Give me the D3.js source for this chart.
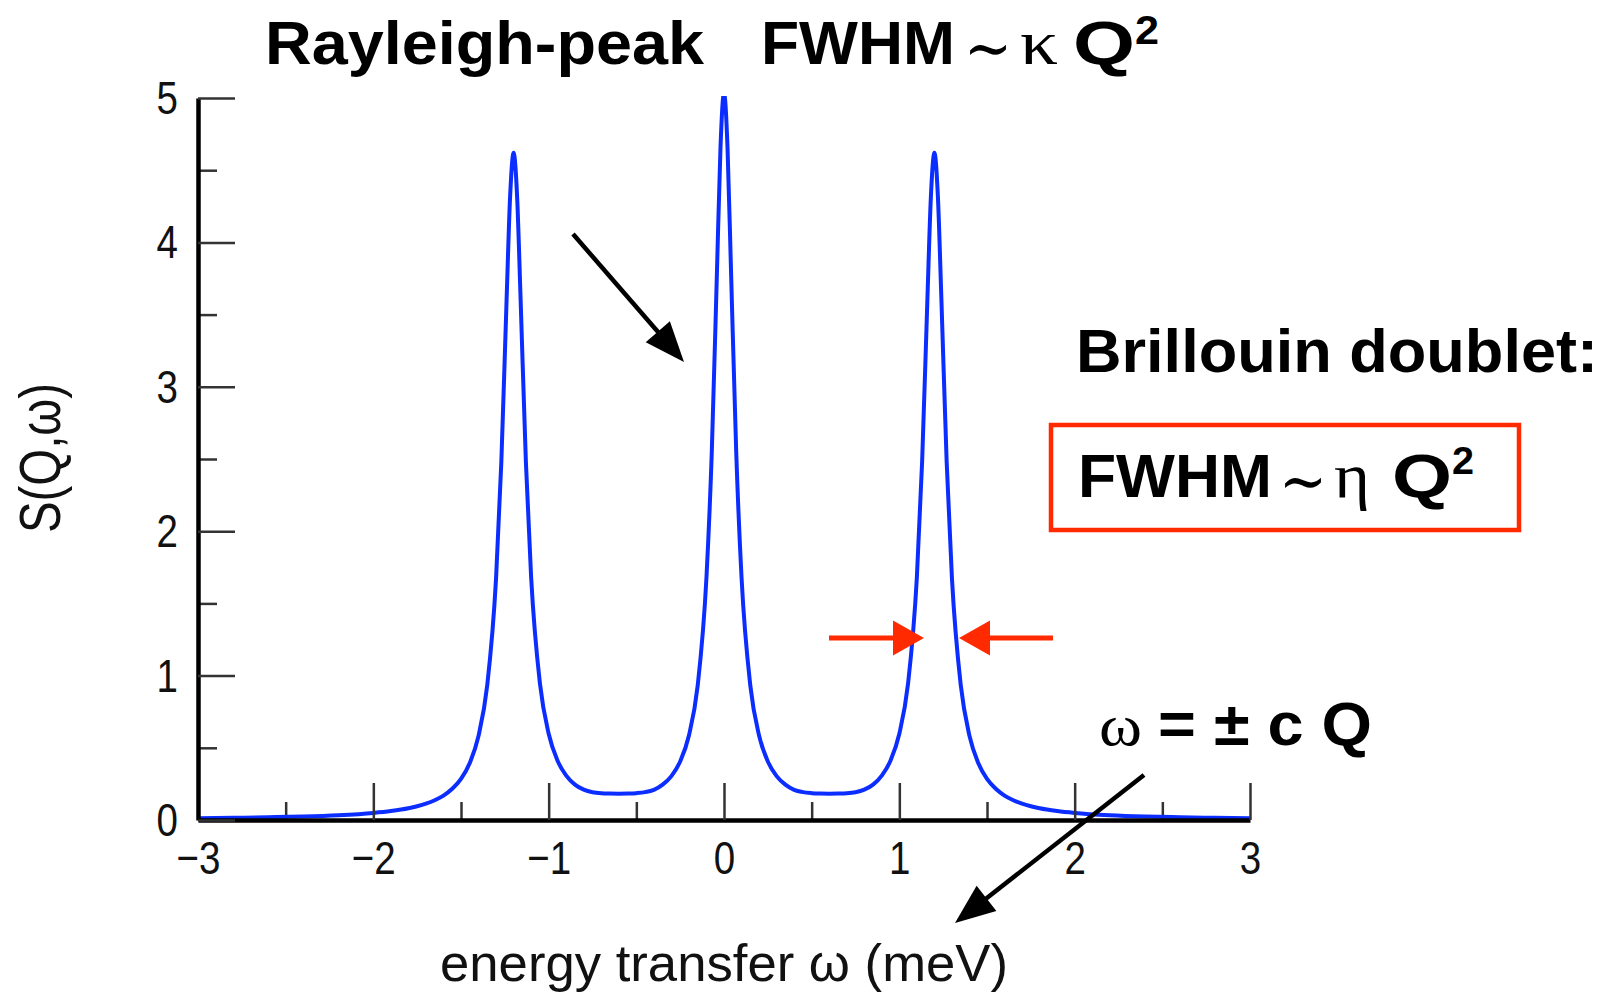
<!DOCTYPE html>
<meta charset="utf-8">
<title>S(Q,w)</title>
<style>
body { margin: 0; background: #fff; }
svg { display: block; }
.tick line { stroke: #333; stroke-width: 2.5px; }
.tick text { font-family: "Liberation Sans", Arial, sans-serif; font-size: 47px; fill: #111; }
.domain { stroke: #000; stroke-width: 4.5px; }
</style>
<body>
<script src="https://cdn.jsdelivr.net/npm/d3@7"></script>
<script>

// energy transfer (meV) and S(Q,w)
var omega = [-3, -2.8, -2.6, -2.4, -2.2, -2, -1.9, -1.8, -1.75, -1.7,
  -1.65, -1.6, -1.55, -1.5, -1.45, -1.4, -1.35, -1.3, -1.27, -1.24,
  -1.22, -1.2, -1.18, -1.16, -1.13, -1.1, -1.05, -1, -0.95, -0.9,
  -0.85, -0.8, -0.75, -0.7, -0.65, -0.6, -0.55, -0.5, -0.45, -0.4,
  -0.35, -0.3, -0.25, -0.2, -0.15, -0.1, -0.07, -0.04, -0.02, 0,
  0.02, 0.04, 0.07, 0.1, 0.15, 0.2, 0.25, 0.3, 0.35, 0.4,
  0.45, 0.5, 0.55, 0.6, 0.65, 0.7, 0.75, 0.8, 0.85, 0.9,
  0.95, 1, 1.05, 1.1, 1.13, 1.16, 1.18, 1.2, 1.22, 1.24,
  1.27, 1.3, 1.35, 1.4, 1.45, 1.5, 1.55, 1.6, 1.65, 1.7,
  1.75, 1.8, 1.9, 2, 2.2, 2.4, 2.6, 2.8, 3];
var sqw = [0.012, 0.015, 0.019, 0.024, 0.033, 0.049, 0.062, 0.081, 0.095, 0.113,
  0.137, 0.169, 0.216, 0.285, 0.395, 0.583, 0.937, 1.675, 2.478, 3.602,
  4.315, 4.621, 4.317, 3.604, 2.482, 1.681, 0.947, 0.597, 0.412, 0.307,
  0.245, 0.210, 0.192, 0.185, 0.183, 0.182, 0.183, 0.186, 0.193, 0.209,
  0.245, 0.304, 0.405, 0.585, 0.932, 1.681, 2.536, 3.805, 4.658, 5.036,
  4.658, 3.805, 2.536, 1.681, 0.932, 0.585, 0.405, 0.304, 0.245, 0.209,
  0.193, 0.186, 0.183, 0.182, 0.183, 0.185, 0.192, 0.210, 0.245, 0.307,
  0.412, 0.597, 0.947, 1.681, 2.482, 3.604, 4.317, 4.621, 4.315, 3.602,
  2.478, 1.675, 0.937, 0.583, 0.395, 0.285, 0.216, 0.169, 0.137, 0.113,
  0.095, 0.081, 0.062, 0.049, 0.033, 0.024, 0.019, 0.015, 0.012];

var xTicks = [-3, -2, -1, 0, 1, 2, 3];
var xMinor = [-2.5, -1.5, -0.5, 0.5, 1.5, 2.5];
var yTicks = [0, 1, 2, 3, 4, 5];
var yMinor = [0.5, 1.5, 2.5, 3.5, 4.5];

var width = 1613,
    height = 992,
    squeeze = 0.82,
    red = "#ff2a00";

var x = d3.scaleLinear().domain([-3, 3]).range([198, 1250]);
var y = d3.scaleLinear().domain([0, 5]).range([820, 98]);

var svg = d3.select("body").append("svg")
    .attr("width", width)
    .attr("height", height);

svg.append("defs").append("clipPath")
    .attr("id", "plot")
  .append("rect")
    .attr("x", x(-3)).attr("y", y(5) - 2)
    .attr("width", x(3) - x(-3)).attr("height", y(0) - y(5) + 12);

// minor ticks
svg.append("g")
    .attr("transform", "translate(0," + y(0) + ")")
    .call(d3.axisBottom(x).tickValues(xMinor).tickSize(-18).tickFormat(""))
    .call(function(g) { g.select(".domain").remove(); });

svg.append("g")
    .attr("transform", "translate(" + x(-3) + ",0)")
    .call(d3.axisLeft(y).tickValues(yMinor).tickSize(-19).tickFormat(""))
    .call(function(g) { g.select(".domain").remove(); });

// the curve
var line = d3.line()
    .x(function(d, i) { return x(omega[i]); })
    .y(function(d) { return y(d); })
    .curve(d3.curveMonotoneX);

svg.append("path")
    .datum(sqw)
    .attr("clip-path", "url(#plot)")
    .attr("fill", "none")
    .attr("stroke", "#0b2dff")
    .attr("stroke-width", 4)
    .attr("stroke-linejoin", "round")
    .attr("d", line);

// major ticks and labels
var xAxis = svg.append("g")
    .attr("transform", "translate(0," + y(0) + ")")
    .call(d3.axisBottom(x).tickValues(xTicks).tickSize(-37).tickSizeOuter(0).tickFormat(d3.format("d")));
xAxis.selectAll("text")
    .attr("y", 54)
    .attr("dy", 0)
    .attr("transform", "scale(" + squeeze + ",1)");

var yAxis = svg.append("g")
    .attr("transform", "translate(" + x(-3) + ",0)")
    .call(d3.axisLeft(y).tickValues(yTicks).tickSize(-37).tickSizeOuter(0).tickFormat(d3.format("d")));
yAxis.selectAll("text")
    .attr("x", -20 / squeeze)
    .attr("dy", "0.33em")
    .attr("transform", "scale(" + squeeze + ",1)");

// axis titles
svg.append("text")
    .attr("transform", "translate(60,458) rotate(-90)")
    .attr("text-anchor", "middle")
    .attr("textLength", 150)
    .attr("lengthAdjust", "spacingAndGlyphs")
    .style("font-family", "Liberation Sans, Arial, sans-serif")
    .style("font-size", "58px")
    .style("fill", "#111")
    .text("S(Q,ω)");

svg.append("text")
    .attr("x", 440).attr("y", 981)
    .attr("textLength", 568)
    .attr("lengthAdjust", "spacingAndGlyphs")
    .style("font-family", "Liberation Sans, Arial, sans-serif")
    .style("font-size", "52px")
    .style("fill", "#111")
    .text("energy transfer ω (meV)");

// annotation text pieces: [text, x, length, baseline, size, family, weight]
var sans = "Liberation Sans, Arial, sans-serif",
    serif = "Liberation Serif, DejaVu Serif, serif";
var notes = [
  ["Rayleigh-peak", 265, 439, 64, 62, sans, "bold"],
  ["FWHM", 761, 194, 64, 62, sans, "bold"],
  ["\u223C", 964, 48, 70, 64, serif, "normal"],
  ["κ", 1020, 38, 64, 64, serif, "normal"],
  ["Q", 1073, 62, 64, 62, sans, "bold"],
  ["2", 1135, 24, 44, 40, sans, "bold"],
  ["Brillouin doublet:", 1076, 522, 372, 62, sans, "bold"],
  ["FWHM", 1078, 194, 497, 62, sans, "bold"],
  ["\u223C", 1279, 48, 503, 64, serif, "normal"],
  ["η", 1334, 36, 497, 64, serif, "normal"],
  ["Q", 1392, 60, 497, 62, sans, "bold"],
  ["2", 1452, 22, 474, 38, sans, "bold"],
  ["ω", 1099, 43, 745, 60, serif, "normal"],
  ["= ± c Q", 1158, 214, 745, 62, sans, "bold"]
];

svg.selectAll(".note")
    .data(notes)
  .enter().append("text")
    .attr("class", "note")
    .attr("x", function(d) { return d[1]; })
    .attr("y", function(d) { return d[3]; })
    .attr("textLength", function(d) { return d[2]; })
    .attr("lengthAdjust", "spacingAndGlyphs")
    .style("font-size", function(d) { return d[4] + "px"; })
    .style("font-family", function(d) { return d[5]; })
    .style("font-weight", function(d) { return d[6]; })
    .style("fill", "#000")
    .text(function(d) { return d[0]; });

// red box
svg.append("rect")
    .attr("x", 1051).attr("y", 425)
    .attr("width", 468).attr("height", 105)
    .attr("fill", "none")
    .attr("stroke", red)
    .attr("stroke-width", 4.5);

// arrows
function arrow(x1, y1, x2, y2, color, w, hl, hw) {
  var a = Math.atan2(y2 - y1, x2 - x1),
      bx = x2 - hl * Math.cos(a), by = y2 - hl * Math.sin(a),
      nx = -Math.sin(a) * hw / 2, ny = Math.cos(a) * hw / 2;
  svg.append("line")
      .attr("x1", x1).attr("y1", y1)
      .attr("x2", bx + (x2 - bx) * 0.2).attr("y2", by + (y2 - by) * 0.2)
      .attr("stroke", color)
      .attr("stroke-width", w);
  svg.append("path")
      .attr("d", "M" + x2 + "," + y2 + "L" + (bx + nx) + "," + (by + ny) + "L" + (bx - nx) + "," + (by - ny) + "Z")
      .attr("fill", color);
}

arrow(573, 234, 684, 362, "#000", 4.5, 40, 32);
arrow(1144, 775, 955, 923, "#000", 4.5, 40, 32);
arrow(829, 638, 924, 638, red, 5, 31, 35);
arrow(1053, 638, 959, 638, red, 5, 31, 35);

</script>
</body>
